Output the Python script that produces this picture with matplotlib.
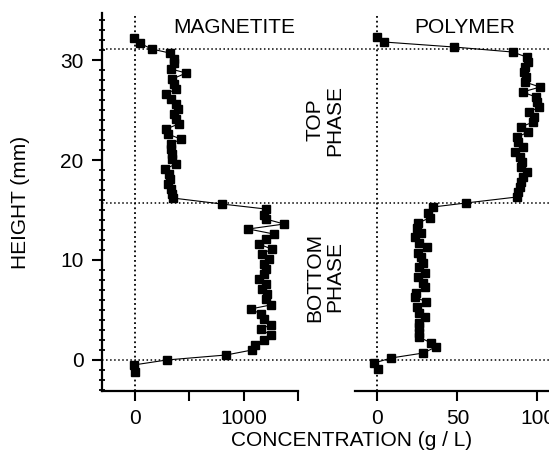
import matplotlib
matplotlib.use('Agg')
import matplotlib.pyplot as plt
from matplotlib.ticker import MultipleLocator, FixedLocator

plt.rcParams['font.family'] = ['Liberation Sans', 'DejaVu Sans']

## magnetite profile (height in mm, concentration in g/L)
mag_height = [32.2, 31.7, 31.1, 30.7, 30.1, 29.7, 29.1, 28.7, 28.1, 27.6,
              27.1, 26.6, 26.1, 25.6, 25.1, 24.6, 24.1, 23.6, 23.1, 22.6,
              22.1, 21.6, 21.1, 20.6, 20.1, 19.6, 19.1, 18.6, 18.1, 17.6,
              17.1, 16.6, 16.2, 15.6, 15.1, 14.5, 14.1, 13.6, 13.1, 12.6,
              12.1, 11.6, 11.1, 10.6, 10.1, 9.6, 9.1, 8.6, 8.1, 7.6,
              7.1, 6.6, 6.1, 5.5, 5.1, 4.6, 4.1, 3.5, 3.1, 2.5,
              2.0, 1.5, 1.0, 0.5, 0.0, -0.5, -1.2]
mag_conc = [-15, 40, 150, 320, 355, 360, 330, 470, 340, 360,
            375, 283, 330, 375, 390, 355, 375, 400, 283, 300,
            420, 330, 330, 340, 335, 375, 272, 307, 322, 300,
            330, 340, 345, 800, 1205, 1190, 1205, 1375, 1045, 1280,
            1205, 1140, 1260, 1170, 1235, 1190, 1205, 1190, 1140, 1205,
            1170, 1220, 1205, 1250, 1065, 1160, 1190, 1250, 1160, 1250,
            1190, 1110, 1080, 840, 290, -15, -8]

## polymer profile
poly_height = [32.3, 31.8, 31.3, 30.8, 30.3, 29.8, 29.3, 28.8, 28.3, 27.8,
               27.3, 26.8, 26.3, 25.8, 25.3, 24.8, 24.3, 23.8, 23.3, 22.8,
               22.3, 21.8, 21.3, 20.8, 20.3, 19.8, 19.3, 18.8, 18.3, 17.8,
               17.3, 16.8, 16.3, 15.7, 15.3, 14.7, 14.2, 13.7, 13.2, 12.7,
               12.3, 11.7, 11.3, 10.7, 10.3, 9.7, 9.3, 8.7, 8.3, 7.7,
               7.3, 6.7, 6.3, 5.8, 5.3, 4.7, 4.3, 3.7, 3.3, 2.7,
               2.3, 1.7, 1.3, 0.7, 0.2, -0.3, -0.9]
poly_conc = [0, 4.4, 48, 84.5, 93.2, 94.3, 92.2, 91.5, 93, 92.2,
             101.6, 90.7, 99, 99.9, 101.1, 94.9, 97.8, 97.4, 89.4, 94.3,
             87.3, 88, 90.7, 85.9, 89, 90.1, 89.4, 93.2, 90.7, 89.4,
             89, 88, 87, 55.2, 34.7, 31.5, 32.6, 25.3, 24.7, 27.4,
             23.8, 26.3, 30.9, 25.3, 27.4, 28.8, 25.9, 29.5, 25.3, 28.4,
             29.5, 24.3, 23.8, 30.5, 24.7, 25.9, 29.5, 26.3, 26.3, 25.9,
             25.9, 33.6, 36.4, 28.8, 8.6, -1.9, 0.2]

## phase boundaries (mm)
boundaries = [31.1, 15.7, 0.0]

fs = 15
ymin, ymax = -3.1, 34.7

fig = plt.figure(figsize=(5.49, 4.66), dpi=100)
ax1 = fig.add_axes([0.1849, 0.161, 0.3572, 0.811])
ax2 = fig.add_axes([0.6466, 0.161, 0.3534, 0.811])
ax2.patch.set_visible(False)

## magnetite panel
ax1.plot(mag_conc, mag_height, '-', color='k', lw=0.8, marker='s', ms=5.2, mfc='k', mec='k')
ax1.axvline(0, ls=':', color='k', lw=1.3)
for b in boundaries:
    ax1.axhline(b, xmin=0, xmax=2.32, ls=':', color='k', lw=1.1, clip_on=False)
ax1.set_xlim(-313, 1500)
ax1.set_ylim(ymin, ymax)
for s in ['top', 'right']:
    ax1.spines[s].set_visible(False)
ax1.spines['left'].set_linewidth(1.6)
ax1.spines['bottom'].set_linewidth(1.6)
ax1.xaxis.set_major_locator(FixedLocator([0, 1000]))
ax1.xaxis.set_minor_locator(FixedLocator([500, 1500]))
ax1.yaxis.set_major_locator(MultipleLocator(10))
ax1.yaxis.set_minor_locator(MultipleLocator(1))
ax1.tick_params(axis='both', which='major', labelsize=fs, direction='out', length=7, width=1.5, pad=6)
ax1.tick_params(axis='x', which='minor', direction='out', length=7, width=1.5)
ax1.tick_params(axis='y', which='minor', direction='inout', length=5, width=1.3)
ax1.text(910, 33.3, 'MAGNETITE', fontsize=fs, ha='center', va='center')
ax1.set_ylabel('HEIGHT (mm)', fontsize=fs, labelpad=22)

## polymer panel
ax2.plot(poly_conc, poly_height, '-', color='k', lw=0.8, marker='s', ms=5.2, mfc='k', mec='k')
ax2.axvline(0, ls=':', color='k', lw=1.3)
ax2.set_xlim(-14, 107.2)
ax2.set_ylim(ymin, ymax)
for s in ['top', 'right', 'left']:
    ax2.spines[s].set_visible(False)
ax2.spines['bottom'].set_linewidth(1.6)
ax2.set_yticks([])
ax2.xaxis.set_major_locator(FixedLocator([0, 50, 100]))
ax2.tick_params(axis='x', which='major', labelsize=fs, direction='out', length=7, width=1.5, pad=6)
ax2.text(54.5, 33.3, 'POLYMER', fontsize=fs, ha='center', va='center')

## phase labels between panels
fig.text(325 / 549, 1 - 120 / 466, 'TOP\nPHASE', rotation=90, fontsize=fs,
         ha='center', va='center', multialignment='center', linespacing=1.1)
fig.text(325 / 549, 1 - 277 / 466, 'BOTTOM\nPHASE', rotation=90, fontsize=fs,
         ha='center', va='center', multialignment='center', linespacing=1.1)

fig.text(352 / 549, 1 - 441 / 466, 'CONCENTRATION (g / L)', fontsize=fs, ha='center', va='center')

plt.savefig('out.png', dpi=100)
